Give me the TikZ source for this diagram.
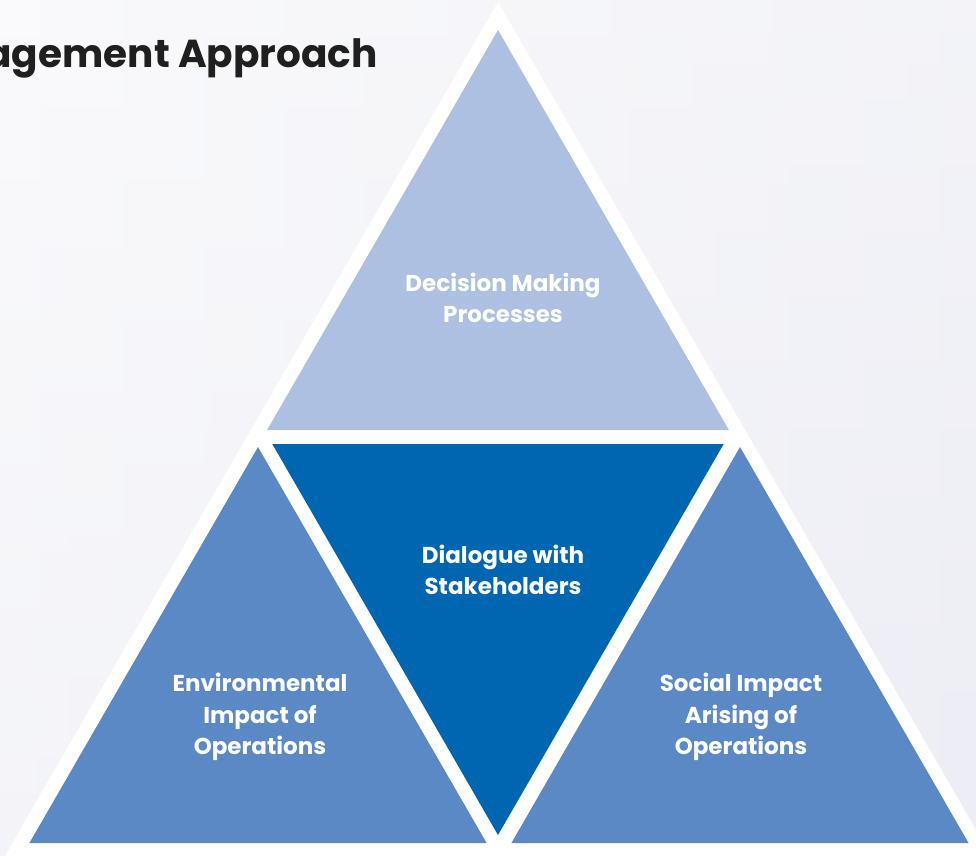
\documentclass[tikz,border=0pt]{standalone}
\usepackage{fontspec}
\setmainfont{Poppins}
\begin{document}
\begin{tikzpicture}[x=1pt,y=-1pt,
  lbl/.style={text=white,font=\bfseries\fontsize{23}{31.5}\selectfont,align=center,inner sep=0pt},
  ttl/.style={text=black!88,font=\bfseries\fontsize{39}{44}\selectfont,inner sep=0pt,anchor=base east}]
  \definecolor{paleblue}{HTML}{ADC0E1}
  \definecolor{deepblue}{HTML}{0066B2}
  \definecolor{midblue}{HTML}{5B89C5}
  \definecolor{bgtop}{HTML}{FAFAFC}
  \definecolor{bgbot}{HTML}{EDEEF5}
  % page and background
  \useasboundingbox (0,0) rectangle (976,855);
  \shade[top color=bgtop,bottom color=bgbot,shading angle=0] (0,0) rectangle (976,855);
  \shade[left color=bgtop,right color=bgbot,opacity=0.5] (0,0) rectangle (976,855);
  % white frame triangle
  \fill[white] (498,2) -- (1016.5,900) -- (-20.5,900) -- cycle;
  % four inner triangles
  \fill[paleblue] (498,30) -- (728.9,430) -- (267.1,430) -- cycle;
  \fill[deepblue] (272.3,444) -- (723.7,444) -- (498,835) -- cycle;
  \fill[midblue] (258,447) -- (486.6,843) -- (29.4,843) -- cycle;
  \fill[midblue] (740,447) -- (968.6,843) -- (511.4,843) -- cycle;
  % labels
  \node[lbl] (top) at (503,298) {Decision Making\\Processes};
  \node[lbl] (mid) at (503,570) {Dialogue with\\Stakeholders};
  \node[lbl] (lft) at (260,717) {Environmental\\Impact of\\Operations};
  \node[lbl] (rgt) at (741,717) {Social Impact\\Arising of\\Operations};
  \node[ttl] (title) at (378,67) {agement Approach};
\end{tikzpicture}
\end{document}
